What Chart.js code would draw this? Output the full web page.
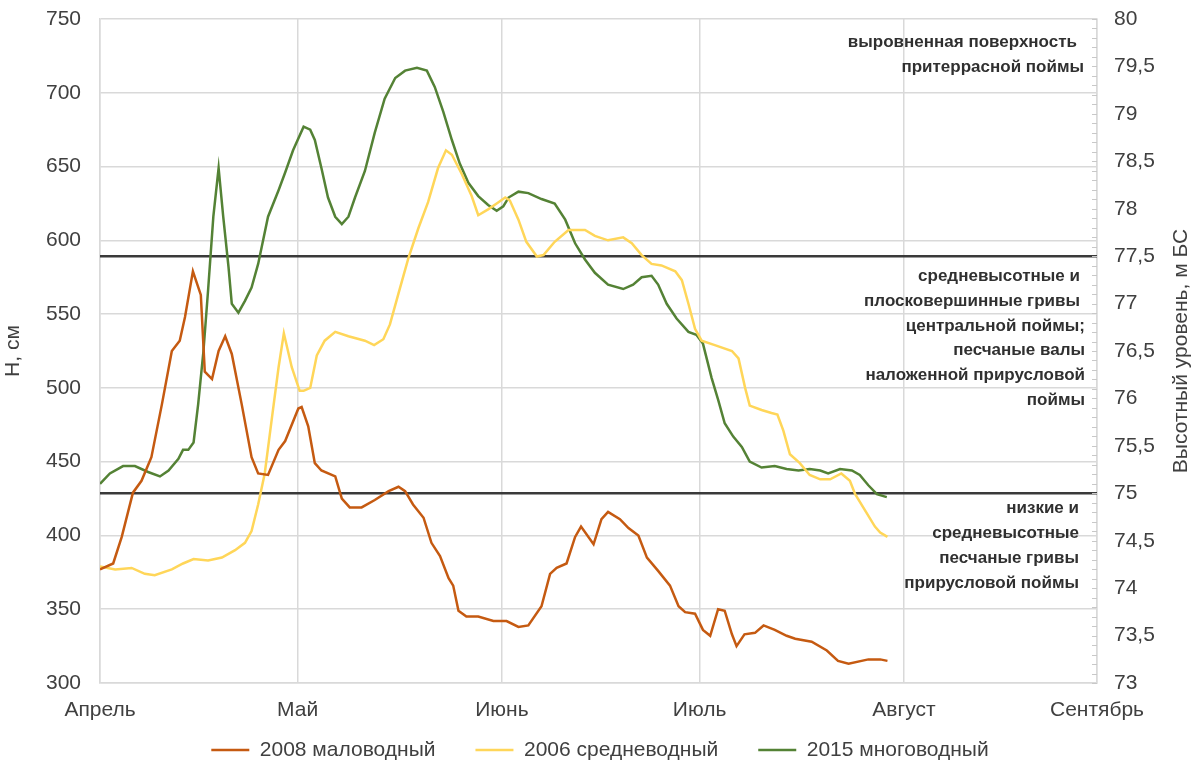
<!DOCTYPE html>
<html>
<head>
<meta charset="utf-8">
<script src="https://cdn.jsdelivr.net/npm/chart.js@4"></script>
<style>
  body { margin: 0; background: #fff; }
  #wrap { width: 1200px; height: 766px; }
</style>
</head>
<body>
<div id="wrap"><canvas id="chart"></canvas></div>
<script>
// month ticks, days since 1 April
const monthDays = [0, 30, 61, 91, 122, 151.3];
const monthNames = ['Апрель', 'Май', 'Июнь', 'Июль', 'Август', 'Сентябрь'];

// 2008 маловодный
const days2008 = [0, 2, 3.3, 5, 6.3, 7.8, 9.4, 10.9, 12.1, 12.9, 14.1, 15.3, 15.9, 17, 18, 19, 20, 21.5, 23, 24,
  25.5, 27.1, 28.1, 30.1, 30.6, 31.6, 32.6, 33.6, 35.7, 36.7, 37.9, 39.7, 41.7, 43.8, 45.3, 46.3, 47.5, 49.1, 50.3, 51.6,
  52.9, 53.6, 54.4, 55.6, 57.4, 59.7, 61.7, 63.5, 65, 67, 68.3, 69.3, 70.8, 72.1, 73, 74.9, 76.1, 77.1, 78.9, 80.2,
  81.7, 83, 84.7, 86.5, 87.8, 88.8, 90.3, 91.5, 92.6, 93.8, 94.8, 95.9, 96.6, 97.8, 99.4, 100.7, 102.4, 104.2, 105.5, 108,
  110.3, 112, 113.6, 116.6, 118.4, 119.5];
const h2008 = [377, 381, 399, 429, 437, 453, 489, 525, 532, 548, 579, 563, 511, 506, 525, 535, 523, 489, 453, 442,
  441, 458, 464, 486, 487, 474, 449, 444, 440, 425, 419, 419, 424, 430, 433, 430, 421, 412, 395, 386,
  371, 366, 349, 345, 345, 342, 342, 338, 339, 352, 374, 378, 381, 399, 406, 394, 411, 416, 411, 405,
  400, 385, 376, 366, 352, 348, 347, 336, 332, 350, 349, 333, 325, 333, 334, 339, 336, 332, 330, 328,
  322, 315, 313, 316, 316, 315];

// 2006 средневодный
const days2006 = [0, 2.3, 4.8, 6.8, 8.3, 10.9, 12.6, 14.2, 16.4, 18.5, 20.5, 22, 23, 24, 25, 26.1, 27.1, 27.9, 29.1, 30.3,
  30.9, 31.9, 32.9, 34.1, 35.7, 37.7, 40.2, 41.6, 43, 44, 45.3, 46.8, 48.3, 49.8, 51.3, 52.5, 53.4, 54.9, 56.4, 57.4,
  58.9, 60.2, 61.5, 62.2, 63.5, 64.7, 66.3, 67.3, 69, 71.1, 73.6, 75.1, 77.1, 79.4, 80.7, 82.2, 83.7, 85.2, 87.3, 88.3,
  89.3, 90.3, 91.3, 93.3, 95.9, 96.9, 97.9, 98.6, 100.4, 101.9, 102.8, 103.7, 104.7, 106.2, 107.7, 109.3, 110.8, 112.5, 113.8, 114.6,
  116.1, 117.6, 118.4, 119.5];
const h2006 = [379, 377, 378, 374, 373, 377, 381, 384, 383, 385, 390, 395, 403, 421, 442, 480, 514, 537, 514, 498,
  498, 500, 522, 532, 538, 535, 532, 529, 533, 543, 564, 588, 608, 626, 649, 661, 658, 645, 630, 617,
  621, 625, 629, 627, 614, 599, 589, 590, 599, 607, 607, 603, 600, 602, 598, 590, 584, 583, 579, 573,
  557, 540, 532, 529, 525, 520, 500, 488, 485, 483, 482, 471, 455, 449, 441, 438, 438, 442, 437, 428,
  417, 406, 402, 399];

// 2015 многоводный
const days2015 = [0, 1.5, 3.5, 5.3, 7.3, 9.1, 10.4, 11.9, 12.6, 13.4, 14.2, 14.9, 15.7, 16.4, 17.2, 18, 18.7, 19.5, 20, 21,
  22, 23, 24, 25.5, 27.1, 28.1, 29.3, 30.9, 31.9, 32.6, 33.6, 34.6, 35.7, 36.7, 37.7, 38.7, 40.2, 41.7, 43.2, 44.8,
  46.3, 48.1, 49.6, 50.8, 52.1, 53.4, 54.6, 55.9, 57.4, 58.9, 60.2, 61.2, 62, 63.5, 65, 67, 69, 70.6, 72.1, 73.6,
  75.1, 77.1, 79.4, 80.9, 82.2, 83.7, 84.7, 86, 87.5, 89.3, 90.5, 91.5, 92.8, 93.8, 94.8, 96.1, 97.4, 98.6, 100.4, 102.4,
  104.2, 106, 107.7, 109.3, 110.5, 112.3, 114.1, 115.3, 116.6, 117.9, 119.4];
const h2015 = [435, 442, 447, 447, 443, 440, 444, 452, 458, 458, 463, 489, 525, 566, 616, 649, 616, 582, 557, 551,
  559, 568, 584, 616, 634, 646, 661, 677, 675, 668, 649, 629, 616, 611, 616, 629, 647, 673, 696, 710,
  715, 717, 715, 704, 687, 668, 652, 639, 630, 624, 620, 623, 629, 633, 632, 628, 625, 614, 598, 587,
  578, 570, 567, 570, 575, 576, 570, 557, 547, 538, 536, 530, 507, 492, 476, 467, 460, 450, 446, 447,
  445, 444, 445, 444, 442, 445, 444, 441, 434, 428, 426];

// floodplain level boundaries, м БС
const levels = [77.5, 75];

const zoneNotes = [
  ['выровненная поверхность', 1077, 42], ['притеррасной поймы', 1084, 67],
  ['средневысотные и', 1080, 276], ['плосковершинные гривы', 1080, 301], ['центральной поймы;', 1085, 326],
  ['песчаные валы', 1085, 350], ['наложенной прирусловой', 1085, 375], ['поймы', 1085, 400],
  ['низкие и', 1079, 508], ['средневысотные', 1079, 533], ['песчаные гривы', 1079, 558], ['прирусловой поймы', 1079, 583]
];

const toPts = (xs, ys) => xs.map((d, i) => ({x: d, y: ys[i]}));
const FONT = 'Liberation Sans, Arial, sans-serif';
const grey = '#404040';
const gridCol = '#d9d9d9';

const series = (label, xs, ys, color) => ({
  label, data: toPts(xs, ys), borderColor: color, backgroundColor: color,
  borderWidth: 2.5, pointRadius: 0, tension: 0, yAxisID: 'y'
});

const levelLines = levels.map(v => ({
  label: 'level', data: [{x: 0, y: v}, {x: monthDays[monthDays.length - 1], y: v}],
  borderColor: '#3a3a3a', borderWidth: 2.5, pointRadius: 0, yAxisID: 'y1'
}));

const extras = {
  id: 'extras',
  afterDraw(chart) {
    const {ctx, chartArea, scales} = chart;
    const y1 = scales.y1;
    ctx.save();
    // small ticks on the right axis
    ctx.strokeStyle = '#c8c8c8';
    ctx.lineWidth = 1;
    for (let k = 0; k <= 70; k++) {
      const py = Math.round(y1.getPixelForValue(73 + k * 0.1)) + 0.5;
      ctx.beginPath();
      ctx.moveTo(chartArea.right - 5, py);
      ctx.lineTo(chartArea.right, py);
      ctx.stroke();
    }
    // right axis title, bottom-to-top
    ctx.fillStyle = grey;
    ctx.font = '21px ' + FONT;
    ctx.textAlign = 'center';
    ctx.textBaseline = 'middle';
    ctx.translate(1181, (chartArea.top + chartArea.bottom) / 2);
    ctx.rotate(-Math.PI / 2);
    ctx.fillText('Высотный уровень, м БС', 0, 0);
    ctx.restore();

    ctx.save();
    ctx.fillStyle = '#303030';
    ctx.font = 'bold 17px ' + FONT;
    ctx.textAlign = 'right';
    ctx.textBaseline = 'middle';
    zoneNotes.forEach(([t, x, y]) => ctx.fillText(t, x, y));
    ctx.restore();
  }
};

const fitY = w => axis => {
  axis.width = w;
  axis.paddingTop = 0;
  axis.paddingBottom = 0;
};

new Chart(document.getElementById('chart'), {
  type: 'line',
  data: {
    datasets: [
      series('2008 маловодный', days2008, h2008, '#c55a11'),
      series('2006 средневодный', days2006, h2006, '#ffd659'),
      series('2015 многоводный', days2015, h2015, '#548235'),
      ...levelLines
    ]
  },
  options: {
    animation: false,
    responsive: true,
    maintainAspectRatio: false,
    layout: {padding: {top: 19, left: 0, right: 0, bottom: 5.5}},
    plugins: {
      tooltip: {enabled: false},
      legend: {
        position: 'bottom',
        maxHeight: 61,
        labels: {
          filter: item => item.text !== 'level',
          usePointStyle: true,
          pointStyle: 'line',
          pointStyleWidth: 38,
          padding: 40,
          color: grey,
          font: {family: FONT, size: 21}
        }
      }
    },
    scales: {
      x: {
        type: 'linear',
        min: 0,
        max: monthDays[monthDays.length - 1],
        afterBuildTicks: axis => { axis.ticks = monthDays.map(v => ({value: v})); },
        afterFit: axis => { axis.height = 16.5; },
        grid: {color: gridCol, lineWidth: 1.5, drawTicks: false},
        border: {color: gridCol, width: 1.5},
        ticks: {
          autoSkip: false, maxRotation: 0, mirror: true, padding: -39.6,
          color: grey, font: {family: FONT, size: 21},
          callback: (v, i) => monthNames[i]
        }
      },
      y: {
        position: 'left',
        min: 300, max: 750,
        afterFit: fitY(100),
        grid: {color: gridCol, lineWidth: 1.5, drawTicks: false},
        border: {color: gridCol, width: 1.5},
        ticks: {stepSize: 50, padding: 19, color: grey, font: {family: FONT, size: 21}},
        title: {display: true, text: 'Н, см', color: grey, font: {family: FONT, size: 21}, padding: {top: 1, bottom: 0}}
      },
      y1: {
        position: 'right',
        min: 73, max: 80,
        afterFit: fitY(103),
        grid: {display: false, drawTicks: false},
        border: {color: gridCol, width: 1.5},
        ticks: {
          stepSize: 0.5, padding: 17, color: grey, font: {family: FONT, size: 21},
          callback: v => String(v).replace('.', ',')
        }
      }
    }
  },
  plugins: [extras]
});
</script>
</body>
</html>
